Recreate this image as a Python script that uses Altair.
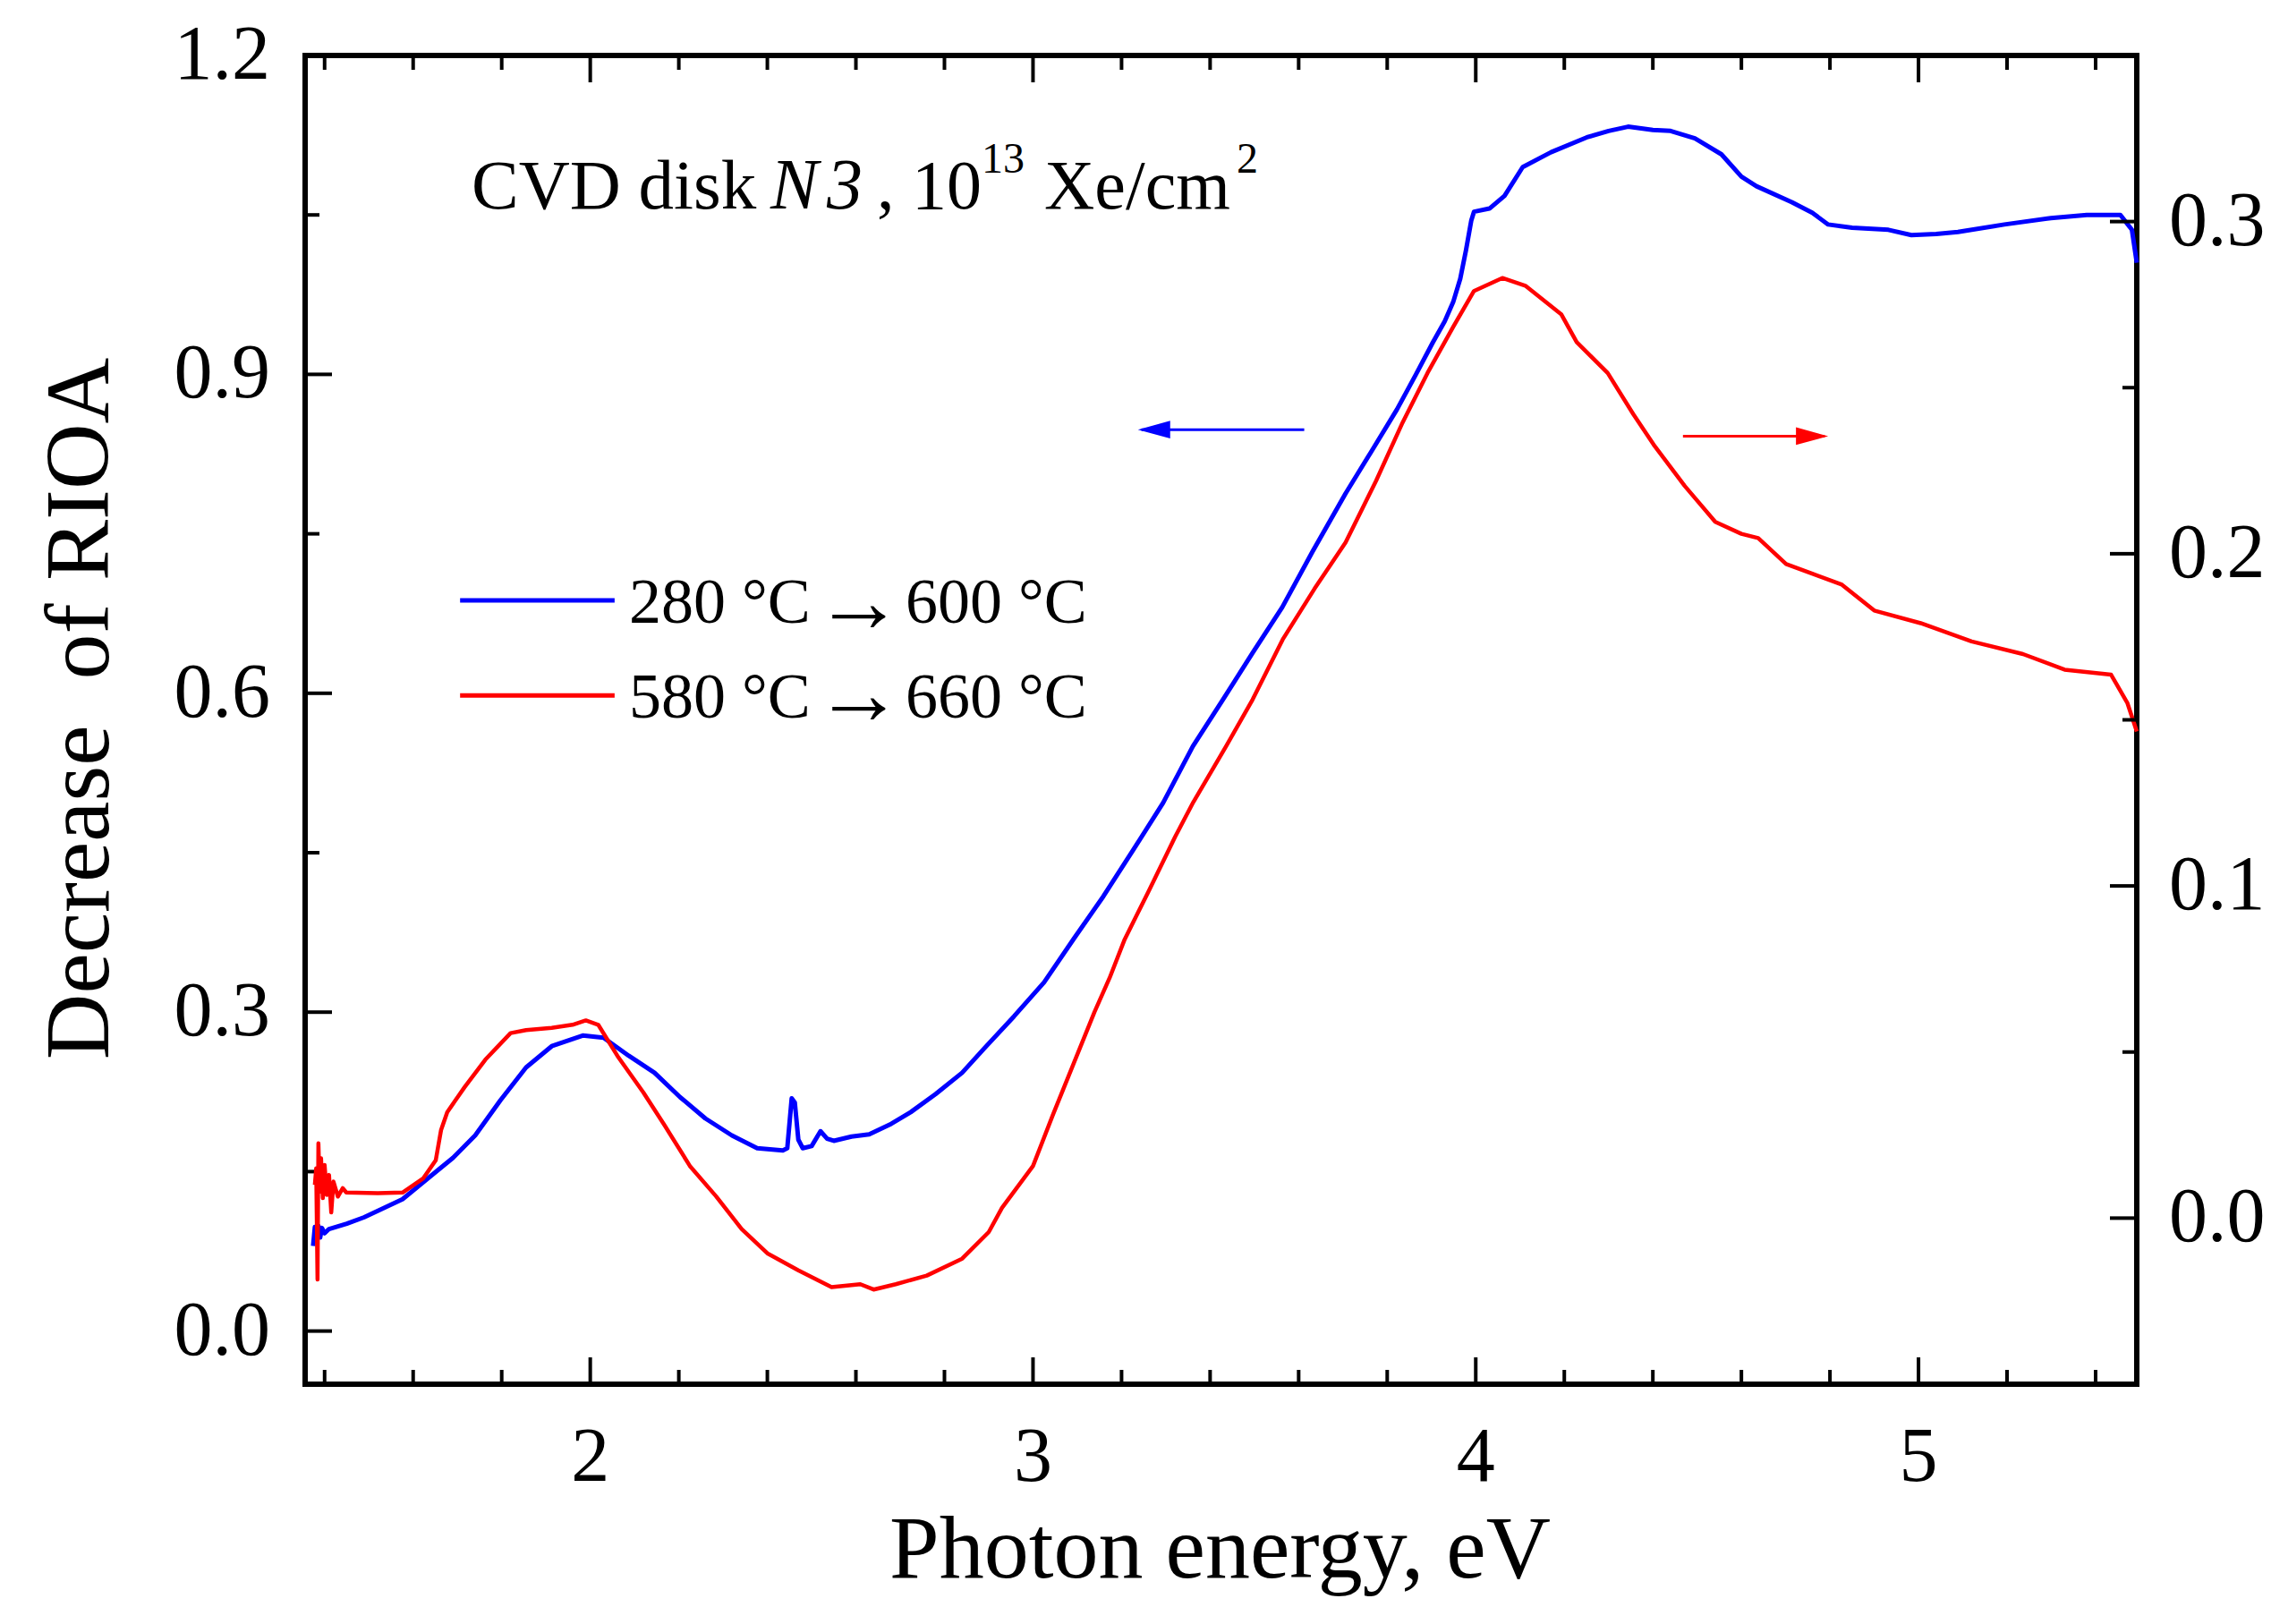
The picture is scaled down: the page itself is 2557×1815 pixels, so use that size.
import altair as alt
import pandas as pd

# ---------------- data ----------------
energy_blue = [1.374, 1.378, 1.382, 1.386, 1.390, 1.394, 1.400, 1.410, 1.450, 1.489,
               1.576, 1.643, 1.690, 1.740, 1.797, 1.855, 1.913, 1.983, 2.030, 2.087,
               2.145, 2.203, 2.260, 2.320, 2.377, 2.435, 2.445, 2.455, 2.462, 2.470,
               2.480, 2.500, 2.520, 2.535, 2.550, 2.590, 2.630, 2.680, 2.724, 2.780,
               2.840, 2.890, 2.957, 3.025, 3.092, 3.159, 3.227, 3.294, 3.361, 3.429,
               3.496, 3.563, 3.631, 3.706, 3.765, 3.822, 3.865, 3.903, 3.930, 3.949,
               3.965, 3.978, 3.990, 3.996, 4.031, 4.065, 4.106, 4.170, 4.251, 4.300,
               4.344, 4.400, 4.440, 4.495, 4.555, 4.600, 4.634, 4.714, 4.760, 4.796,
               4.850, 4.932, 4.984, 5.040, 5.089, 5.194, 5.299, 5.380, 5.456, 5.482,
               5.493]
rioa_blue = [0.080, 0.098, 0.086, 0.099, 0.088, 0.097, 0.092, 0.096, 0.101, 0.107,
             0.124, 0.147, 0.163, 0.184, 0.217, 0.248, 0.268, 0.278, 0.276, 0.259,
             0.243, 0.220, 0.200, 0.184, 0.172, 0.170, 0.172, 0.219, 0.215, 0.180,
             0.172, 0.174, 0.188, 0.181, 0.179, 0.183, 0.185, 0.195, 0.206, 0.223,
             0.243, 0.266, 0.296, 0.328, 0.369, 0.409, 0.453, 0.497, 0.550, 0.594,
             0.638, 0.681, 0.733, 0.788, 0.828, 0.867, 0.900, 0.930, 0.950, 0.968,
             0.990, 1.017, 1.045, 1.053, 1.056, 1.068, 1.095, 1.109, 1.123, 1.129,
             1.133, 1.130, 1.129, 1.122, 1.107, 1.086, 1.077, 1.062, 1.052, 1.041,
             1.038, 1.036, 1.031, 1.032, 1.034, 1.041, 1.047, 1.050, 1.050, 1.036,
             1.005]

energy_red = [1.378, 1.381, 1.384, 1.386, 1.389, 1.392, 1.396, 1.400, 1.405, 1.410,
              1.415, 1.420, 1.430, 1.441, 1.449, 1.520, 1.576, 1.623, 1.651, 1.663,
              1.677, 1.716, 1.763, 1.820, 1.855, 1.913, 1.960, 1.990, 2.018, 2.064,
              2.120, 2.168, 2.226, 2.284, 2.342, 2.400, 2.470, 2.545, 2.610, 2.640,
              2.690, 2.760, 2.840, 2.900, 2.930, 3.000, 3.045, 3.092, 3.139, 3.173,
              3.207, 3.260, 3.321, 3.362, 3.436, 3.496, 3.564, 3.636, 3.706, 3.775,
              3.833, 3.891, 3.949, 3.996, 4.060, 4.112, 4.193, 4.228, 4.298, 4.356,
              4.402, 4.472, 4.541, 4.600, 4.638, 4.701, 4.760, 4.827, 4.900, 5.005,
              5.120, 5.236, 5.330, 5.435, 5.472, 5.493]
rioa_red = [0.0100, 0.0150, -0.0185, 0.0225, 0.0080, 0.0180, 0.0060, 0.0160, 0.0070, 0.0130,
            0.0017, 0.0110, 0.0065, 0.0090, 0.0077, 0.0075, 0.0077, 0.0120, 0.0174, 0.0265,
            0.0319, 0.0394, 0.0477, 0.0557, 0.0566, 0.0573, 0.0582, 0.0595, 0.0582, 0.0483,
            0.0378, 0.0279, 0.0155, 0.0066, -0.0033, -0.0106, -0.0157, -0.0208, -0.0199, -0.0215,
            -0.0199, -0.0173, -0.0122, -0.0042, 0.0031, 0.0157, 0.0311, 0.0466, 0.0621, 0.0723,
            0.0839, 0.0981, 0.1148, 0.1252, 0.1420, 0.1561, 0.1742, 0.1895, 0.2034, 0.2220,
            0.2390, 0.2544, 0.2683, 0.2791, 0.2830, 0.2807, 0.2721, 0.2637, 0.2544, 0.2420,
            0.2328, 0.2204, 0.2096, 0.2060, 0.2047, 0.1969, 0.1940, 0.1907, 0.1829, 0.1791,
            0.1736, 0.1698, 0.1651, 0.1636, 0.1550, 0.1465]

x_major = [2, 3, 4, 5]
x_tick_labels = ["2", "3", "4", "5"]
x_minor = [1.4, 1.6, 1.8, 2.2, 2.4, 2.6, 2.8, 3.2, 3.4, 3.6, 3.8,
           4.2, 4.4, 4.6, 4.8, 5.2, 5.4]
left_major = [0.0, 0.3, 0.6, 0.9, 1.2]
left_tick_labels = ["0.0", "0.3", "0.6", "0.9", "1.2"]
left_minor = [0.15, 0.45, 0.75, 1.05]
right_major = [0.0, 0.1, 0.2, 0.3]
right_tick_labels = ["0.0", "0.1", "0.2", "0.3"]
right_minor = [0.05, 0.15, 0.25]

legend_from = ["280 \u00b0C", "580 \u00b0C"]
legend_to = ["600 \u00b0C", "660 \u00b0C"]
x_title = "Photon energy, eV"
y_title = "Decrease\u00a0 of RIOA"

# ---------------- layout / style ----------------
W, H = 2047, 1485
FONT = "Liberation Serif"
BLUE = "#0000ff"
RED = "#ff0000"
MAJ, MIN = 30, 16
TICK_FS = 86

xs = alt.Scale(domain=[1.356, 5.493], nice=False, zero=False)
ls = alt.Scale(domain=[-0.05, 1.2], nice=False, zero=False)
rs = alt.Scale(domain=[-0.05, 0.35], nice=False, zero=False)

blue_df = pd.DataFrame({"E": energy_blue, "v": rioa_blue})
red_df = pd.DataFrame({"E": energy_red, "v": rioa_red})

blue_line = alt.Chart(blue_df).mark_line(color=BLUE, strokeWidth=5, strokeJoin="round").encode(
    x=alt.X("E:Q", scale=xs, axis=None),
    y=alt.Y("v:Q", scale=ls, axis=None),
)

red_line = alt.Chart(red_df).mark_line(color=RED, strokeWidth=4.5, strokeJoin="round").encode(
    x=alt.X("E:Q", scale=xs, axis=None),
    y=alt.Y("v:Q", scale=rs, axis=None),
)


def xticks(vals, length, top):
    y0 = 0 if top else H
    y1 = length if top else H - length
    return alt.Chart(pd.DataFrame({"t": vals})).mark_rule(color="black", strokeWidth=4).encode(
        x=alt.X("t:Q", scale=xs, axis=None), y=alt.value(y0), y2=alt.value(y1))


def yticks(vals, length, scale, right):
    x0 = W if right else 0
    x1 = W - length if right else length
    return alt.Chart(pd.DataFrame({"t": vals})).mark_rule(color="black", strokeWidth=4).encode(
        y=alt.Y("t:Q", scale=scale, axis=None), x=alt.value(x0), x2=alt.value(x1))


def xlabels():
    df = pd.DataFrame({"t": x_major, "s": x_tick_labels})
    return alt.Chart(df).mark_text(font=FONT, fontSize=TICK_FS, color="black",
                                   align="center", baseline="alphabetic").encode(
        x=alt.X("t:Q", scale=xs, axis=None), y=alt.value(H + 108), text="s:N")


def ylabels(vals, texts, scale, right):
    df = pd.DataFrame({"t": vals, "s": texts})
    return alt.Chart(df).mark_text(font=FONT, fontSize=TICK_FS, color="black",
                                   align="left" if right else "right",
                                   baseline="middle").encode(
        y=alt.Y("t:Q", scale=scale, axis=None),
        x=alt.value(W + 36 if right else -39), text="s:N")


ONE = alt.Data(values=[{}])


def label(text, x, y, size, style="normal"):
    return alt.Chart(ONE).mark_text(
        text=text, align="left", baseline="alphabetic", font=FONT, fontSize=size,
        fontStyle=style, color="black").encode(
        x=alt.XDatum(x, axis=None), y=alt.YDatum(y, axis=None))


def seg(x1, x2, y, color, width):
    return alt.Chart(ONE).mark_rule(color=color, strokeWidth=width).encode(
        x=alt.XDatum(x1, axis=None), x2=alt.X2Datum(x2), y=alt.YDatum(y, axis=None))


def head(x, y, color, left):
    path = "M 0 0 L 2 -0.55 L 2 0.55 Z" if left else "M 0 0 L -2 -0.55 L -2 0.55 Z"
    return alt.Chart(ONE).mark_point(shape=path, size=1296, filled=True, color=color,
                                     opacity=1, strokeWidth=0).encode(
        x=alt.XDatum(x, axis=None), y=alt.YDatum(y, axis=None))


x_title_mark = alt.Chart(ONE).mark_text(
    text=x_title, font=FONT, fontSize=100, color="black", align="center",
    baseline="alphabetic").encode(x=alt.value(W / 2 - 1), y=alt.value(H + 216))

y_title_mark = alt.Chart(ONE).mark_text(
    text=y_title, font=FONT, fontSize=102, color="black", align="center",
    baseline="alphabetic", angle=270).encode(x=alt.value(-220), y=alt.value(730))

left_group = alt.layer(
    blue_line,
    xticks(x_major, MAJ, False), xticks(x_minor, MIN, False),
    xticks(x_major, MAJ, True), xticks(x_minor, MIN, True),
    yticks(left_major, MAJ, ls, False), yticks(left_minor, MIN, ls, False),
    xlabels(),
    ylabels(left_major, left_tick_labels, ls, False),
    x_title_mark, y_title_mark,
    # annotation "CVD disk N3, 10^13 Xe/cm^2"
    label("CVD disk", 1.7319, 1.0561, 79),
    label("N", 2.4069, 1.0561, 80, "italic"),
    label("3", 2.5343, 1.0561, 80, "italic"),
    label(", 10", 2.6474, 1.0561, 78),
    label("13", 2.8840, 1.0897, 48),
    label("Xe/cm", 3.0254, 1.0561, 78),
    label("2", 3.4599, 1.0897, 48),
    # legend
    seg(1.706, 2.055, 0.6874, BLUE, 5),
    seg(1.706, 2.055, 0.5980, RED, 5),
    label(legend_from[0], 2.0876, 0.6663, 72),
    label("\u2192", 2.5060, 0.6578, 100),
    label(legend_to[0], 2.7121, 0.6663, 72),
    label(legend_from[1], 2.0876, 0.5771, 72),
    label("\u2192", 2.5060, 0.5710, 100),
    label(legend_to[1], 2.7121, 0.5771, 72),
    # blue arrow (points to left axis)
    seg(3.245, 3.6126, 0.848, BLUE, 3),
    head(3.237, 0.848, BLUE, True),
)

right_group = alt.layer(
    red_line,
    yticks(right_major, MAJ, rs, True), yticks(right_minor, MIN, rs, True),
    ylabels(right_major, right_tick_labels, rs, True),
    # red arrow (points to right axis)
    seg(4.468, 4.788, 0.2354, RED, 3),
    head(4.796, 0.2354, RED, False),
)

chart = alt.layer(left_group, right_group).resolve_scale(y="independent").properties(
    width=W, height=H,
    autosize=alt.AutoSizeParams(type="none"),
    padding={"left": 333, "top": 54, "right": 160, "bottom": 250},
    background="white",
).configure_view(stroke="black", strokeWidth=6)

chart.save("out.html", embed_options={"renderer": "svg", "actions": False})
